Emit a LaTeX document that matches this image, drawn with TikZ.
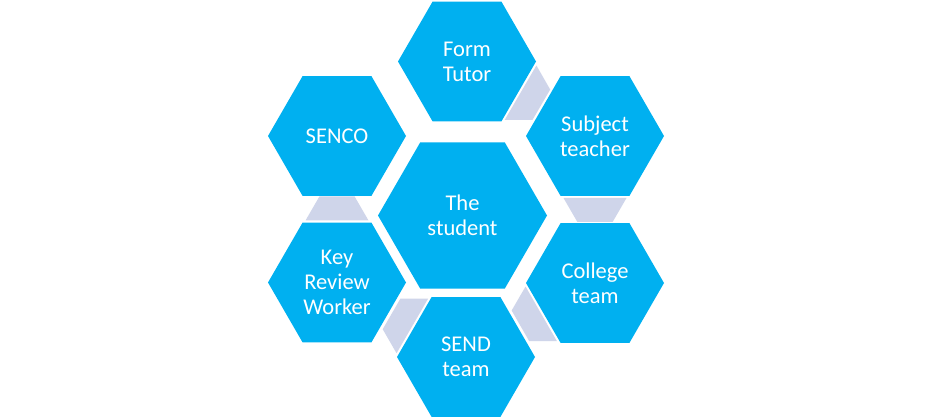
\documentclass[tikz,border=0pt]{standalone}
\usepackage{fontspec}
\setmainfont{Carlito}
\usetikzlibrary{shapes.geometric,calc}
\definecolor{hexblue}{RGB}{0,176,240}
\definecolor{linksoft}{RGB}{207,213,234}

% trapezoid between two neighbouring hexagons, wide at the first one
\newcommand{\hexlink}[2]{%
  \fill[link] ($(#1)!62pt!(#2)!31.5pt!90:(#2)$) -- ($(#1)!62pt!(#2)!31.5pt!-90:(#2)$)
    -- ($(#1)!86pt!(#2)!17.6pt!-90:(#2)$) -- ($(#1)!86pt!(#2)!17.6pt!90:(#2)$) -- cycle;}

\begin{document}
\begin{tikzpicture}[
  x=1pt, y=-1pt,
  font=\fontsize{22.5}{25}\selectfont,
  hex/.style={regular polygon, regular polygon sides=6,
    fill=hexblue, text=white, align=center, inner sep=0pt, outer sep=0pt, minimum size=138pt},
  link/.style={fill=linksoft},
]
\fill[white] (0,0) rectangle (932,419);
\useasboundingbox (0,0) rectangle (932,419);
% ------------------------------------------------------------------ hexagons
\node[hex, minimum size=169pt] (stu) at (462.5,215.5) {The\\student};
\node[hex] (form)  at (467,61.5) {Form\\Tutor};
\node[hex] (subj)  at (595,136)  {Subject\\teacher};
\node[hex] (coll)  at (595,283)  {College\\team};
\node[hex] (send)  at (466,357)  {SEND\\team};
\node[hex] (krw)   at (337,282.5) {Key\\Review\\Worker};
\node[hex] (senco) at (337,136)  {SENCO};

% ------------------------------------------------------------------ links
\hexlink{form}{subj}
\hexlink{subj}{coll}
\hexlink{coll}{send}
\hexlink{send}{krw}
\hexlink{krw}{senco}
\end{tikzpicture}
\end{document}
